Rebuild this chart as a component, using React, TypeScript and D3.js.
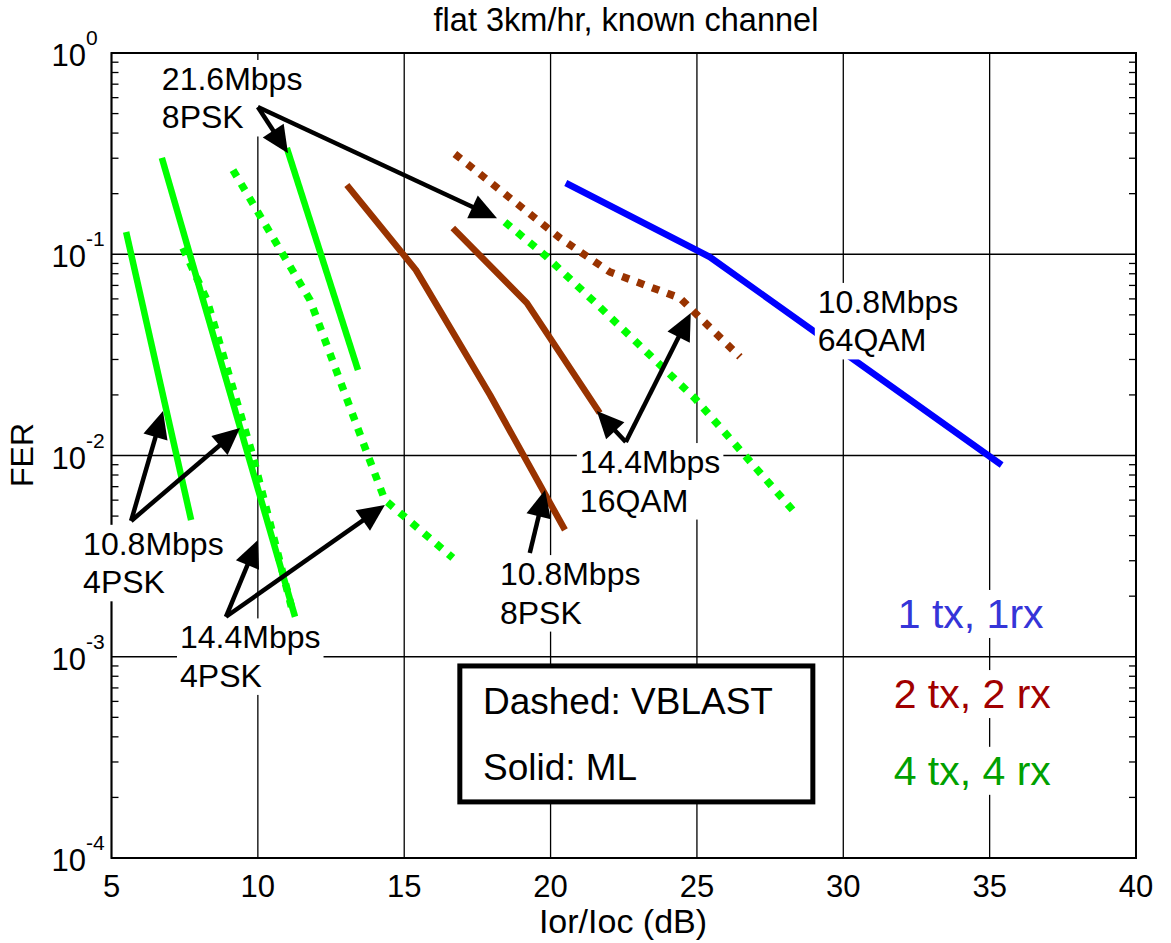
import React, { useEffect, useRef } from 'react';
import * as d3 from 'd3';

// ---------- axes ----------
const X_DOMAIN: [number, number] = [5, 40];
const Y_DOMAIN: [number, number] = [1e-4, 1];
const X_TICKS = [5, 10, 15, 20, 25, 30, 35, 40];
const Y_EXPONENTS = [0, -1, -2, -3, -4];
const TITLE = 'flat 3km/hr, known channel';
const X_LABEL = 'Ior/Ioc (dB)';
const Y_LABEL = 'FER';

// ---------- series (x: Ior/Ioc dB, y: FER) ----------
// 1 tx, 1 rx (ML, 64QAM)
const s11_x = [20.52, 25.44, 35.41];
const s11_y = [0.226, 0.0969, 0.00897];

// 2 tx, 2 rx ML
const s22mlA_x = [13.04, 15.4, 17.93, 20.49];
const s22mlA_y = [0.221, 0.0835, 0.02, 0.00427];
const s22mlB_x = [16.66, 19.19, 21.68];
const s22mlB_y = [0.135, 0.0573, 0.01626];
// 2 tx, 2 rx VBLAST
const s22vb_x = [16.73, 20.32, 22.03, 24.42, 26.47];
const s22vb_y = [0.315, 0.1205, 0.0816, 0.0606, 0.0309];

// 4 tx, 4 rx ML
const s44mlA_x = [5.5, 7.72];
const s44mlA_y = [0.129, 0.00478];
const s44mlB_x = [6.72, 11.27];
const s44mlB_y = [0.301, 0.00158];
const s44mlC_x = [10.99, 13.42];
const s44mlC_y = [0.337, 0.0266];
// 4 tx, 4 rx VBLAST
const s44vbA_x = [7.44, 8.26, 9.83, 11.2];
const s44vbA_y = [0.1074, 0.0593, 0.00994, 0.00165];
const s44vbB_x = [9.15, 11.78, 13.73, 14.34, 16.66];
const s44vbB_y = [0.262, 0.0593, 0.01028, 0.00601, 0.0031];
const s44vbC_x = [18.44, 19.8, 21.68, 24.92, 28.27];
const s44vbC_y = [0.1446, 0.0991, 0.0547, 0.0193, 0.00536];

// ---------- annotations (data coords) ----------
const annLabels = [
  ['21.6Mbps', '8PSK'],
  ['10.8Mbps', '4PSK'],
  ['14.4Mbps', '4PSK'],
  ['10.8Mbps', '8PSK'],
  ['14.4Mbps', '16QAM'],
  ['10.8Mbps', '64QAM'],
];
const annTextX = [6.72, 4.03, 7.34, 18.27, 21.0, 29.13];
const annTextY = [0.655, 0.00321, 0.0011, 0.00227, 0.00818, 0.0511];
const annFromX = [10.0, 5.67, 8.91, 19.29, 22.57, NaN];
const annFromY = [0.539, 0.00473, 0.00158, 0.00328, 0.01167, NaN];
const annTipsX = [[11.03, 18.17], [6.76, 9.39], [10.0, 14.34], [19.81], [21.58, 24.79], []];
const annTipsY = [[0.318, 0.151], [0.01664, 0.0137], [0.0038, 0.00568], [0.00674], [0.01664, 0.0511], []];

const groupLabels = ['1 tx, 1rx', '2 tx, 2 rx', '4 tx, 4 rx'];
const groupLabelX = [31.86, 31.72, 31.72];
const groupLabelY = [0.00139, 0.000556, 0.000231];

const legendLines = ['Dashed: VBLAST', 'Solid: ML'];
const legendBoxX = [16.9, 28.96];
const legendBoxY = [0.0009, 0.00019];
const legendTextX = 17.69;
const legendTextY = [0.00052, 0.000244];

const FONT = "'Liberation Sans', Arial, Helvetica, sans-serif";
const BLUE = '#0000ff';
const BROWN = '#993300';
const GREEN = '#00ff00';

export default function App() {
  const ref = useRef<SVGSVGElement>(null);

  useEffect(() => {
    const svg = d3.select(ref.current as SVGSVGElement);
    svg.selectAll('*').remove();

    const L = 111.5, R = 1136, T = 53, B = 858;
    const x = d3.scaleLinear().domain(X_DOMAIN).range([L, R]);
    const y = d3.scaleLog().domain(Y_DOMAIN).range([B, T]);

    svg.append('rect').attr('width', 1171).attr('height', 943).attr('fill', '#fff');

    // grid
    const grid = svg.append('g').attr('stroke', '#000').attr('stroke-width', 1.3);
    X_TICKS.forEach((v) => {
      grid.append('line').attr('x1', x(v)).attr('x2', x(v)).attr('y1', T).attr('y2', B);
    });
    Y_EXPONENTS.forEach((e) => {
      const yy = y(Math.pow(10, e));
      grid.append('line').attr('x1', L).attr('x2', R).attr('y1', yy).attr('y2', yy);
    });
    // minor ticks
    for (let e = -4; e < 0; e++) {
      for (let m = 2; m <= 9; m++) {
        const yy = y(m * Math.pow(10, e));
        grid.append('line').attr('x1', L).attr('x2', L + 7).attr('y1', yy).attr('y2', yy);
        grid.append('line').attr('x1', R - 7).attr('x2', R).attr('y1', yy).attr('y2', yy);
      }
    }
    // axes box
    svg.append('rect').attr('x', L).attr('y', T).attr('width', R - L).attr('height', B - T)
      .attr('fill', 'none').attr('stroke', '#000').attr('stroke-width', 2);

    // tick labels
    X_TICKS.forEach((v) => {
      svg.append('text').attr('x', x(v)).attr('y', B + 39).attr('text-anchor', 'middle')
        .attr('font-family', FONT).attr('font-size', 31).text(String(v));
    });
    Y_EXPONENTS.forEach((e) => {
      const yy = y(Math.pow(10, e)) + 13;
      svg.append('text').attr('x', 86).attr('y', yy).attr('text-anchor', 'end')
        .attr('font-family', FONT).attr('font-size', 31).text('10');
      svg.append('text').attr('x', 86).attr('y', yy - 21).attr('text-anchor', 'start')
        .attr('font-family', FONT).attr('font-size', 21).text(String(e));
    });

    // title / labels
    svg.append('text').attr('x', 626).attr('y', 31).attr('text-anchor', 'middle')
      .attr('font-family', FONT).attr('font-size', 32.5).text(TITLE);
    svg.append('text').attr('x', 623).attr('y', 933).attr('text-anchor', 'middle')
      .attr('font-family', FONT).attr('font-size', 34).text(X_LABEL);
    svg.append('text').attr('transform', 'translate(33,455) rotate(-90)').attr('text-anchor', 'middle')
      .attr('font-family', FONT).attr('font-size', 32).text(Y_LABEL);

    // series
    const line = d3.line<[number, number]>().x((d) => x(d[0])).y((d) => y(d[1]));
    const series: { xs: number[]; ys: number[]; color: string; dotted: boolean }[] = [
      { xs: s44vbA_x, ys: s44vbA_y, color: GREEN, dotted: true },
      { xs: s44vbB_x, ys: s44vbB_y, color: GREEN, dotted: true },
      { xs: s44vbC_x, ys: s44vbC_y, color: GREEN, dotted: true },
      { xs: s22vb_x, ys: s22vb_y, color: BROWN, dotted: true },
      { xs: s44mlA_x, ys: s44mlA_y, color: GREEN, dotted: false },
      { xs: s44mlB_x, ys: s44mlB_y, color: GREEN, dotted: false },
      { xs: s44mlC_x, ys: s44mlC_y, color: GREEN, dotted: false },
      { xs: s22mlA_x, ys: s22mlA_y, color: BROWN, dotted: false },
      { xs: s22mlB_x, ys: s22mlB_y, color: BROWN, dotted: false },
      { xs: s11_x, ys: s11_y, color: BLUE, dotted: false },
    ];
    series.forEach((s) => {
      const pts = s.xs.map((v, i) => [v, s.ys[i]] as [number, number]);
      svg.append('path').attr('d', line(pts) as string).attr('fill', 'none')
        .attr('stroke', s.color).attr('stroke-width', s.dotted ? 7.5 : 6.5)
        .attr('stroke-linejoin', 'round')
        .attr('stroke-dasharray', s.dotted ? '7.5,8.5' : null);
    });

    // annotation texts with white background
    const addBoxedText = (lines: string[], tx: number, ty: number, size: number, color: string, lh: number) => {
      const g = svg.append('g');
      const rect = g.append('rect').attr('fill', '#fff');
      const t = g.append('text').attr('font-family', FONT).attr('font-size', size).attr('fill', color);
      lines.forEach((s, k) => {
        t.append('tspan').attr('x', tx).attr('y', ty + k * lh).text(s);
      });
      const bb = (t.node() as SVGTextElement).getBBox();
      rect.attr('x', bb.x - 3).attr('y', bb.y - 1).attr('width', bb.width + 6).attr('height', bb.height + 2);
    };
    annLabels.forEach((lines, i) => {
      addBoxedText(lines, x(annTextX[i]), y(annTextY[i]), 32, '#000', 38.5);
    });
    const groupColors = ['#3535d8', '#a00000', '#00a000'];
    groupLabels.forEach((s, i) => {
      addBoxedText([s], x(groupLabelX[i]), y(groupLabelY[i]), 41, groupColors[i], 0);
    });

    // arrows (on top of the text boxes)
    const arrows = svg.append('g');
    annLabels.forEach((_, i) => {
      if (isNaN(annFromX[i])) return;
      const x0 = x(annFromX[i]), y0 = y(annFromY[i]);
      annTipsX[i].forEach((tx, j) => {
        const x1 = x(tx), y1 = y(annTipsY[i][j]);
        const dx = x1 - x0, dy = y1 - y0;
        const len = Math.hypot(dx, dy);
        const ux = dx / len, uy = dy / len;
        const hl = 27, hw = 12.5;
        const bx = x1 - ux * hl, by = y1 - uy * hl;
        arrows.append('line').attr('x1', x0).attr('y1', y0).attr('x2', bx + ux * 2).attr('y2', by + uy * 2)
          .attr('stroke', '#000').attr('stroke-width', 4.5);
        arrows.append('polygon')
          .attr('points', `${x1},${y1} ${bx - uy * hw},${by + ux * hw} ${bx + uy * hw},${by - ux * hw}`)
          .attr('fill', '#000');
      });
    });

    // legend box
    svg.append('rect').attr('x', x(legendBoxX[0])).attr('y', y(legendBoxY[0]))
      .attr('width', x(legendBoxX[1]) - x(legendBoxX[0])).attr('height', y(legendBoxY[1]) - y(legendBoxY[0]))
      .attr('fill', '#fff').attr('stroke', '#000').attr('stroke-width', 5);
    legendLines.forEach((s, i) => {
      svg.append('text').attr('x', x(legendTextX)).attr('y', y(legendTextY[i]))
        .attr('font-family', FONT).attr('font-size', 37).text(s);
    });
  }, []);

  return (
    <svg ref={ref} width={1171} height={943}
      style={{ position: 'absolute', left: 0, top: 0, display: 'block' }} />
  );
}
